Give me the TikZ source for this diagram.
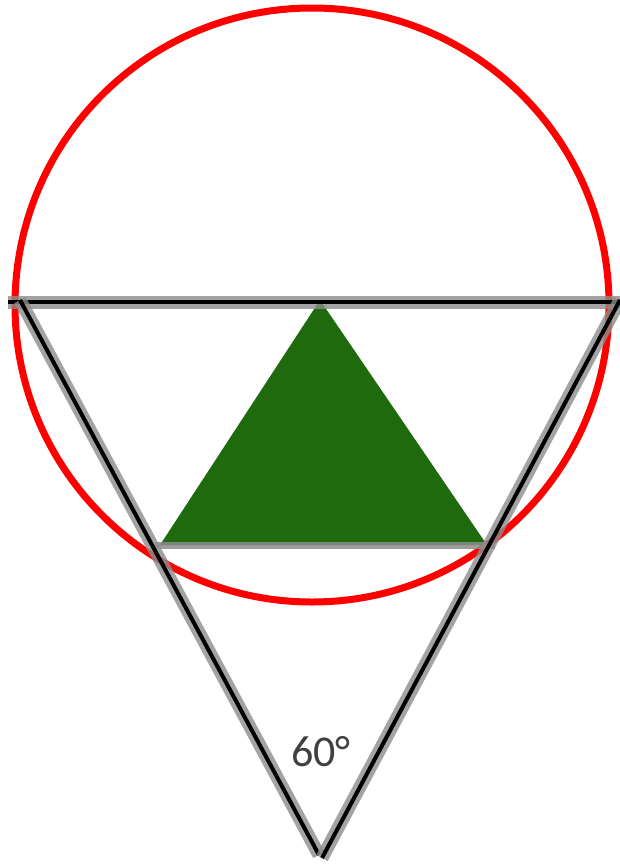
\documentclass[tikz,border=0pt]{standalone}
\usepackage{fontspec}
\setmainfont{Carlito}
\usetikzlibrary{calc}
\definecolor{ring}{HTML}{FF0000}
\definecolor{leaf}{HTML}{1F6A0C}
\definecolor{halo}{HTML}{8C8C8C}
\definecolor{ink}{HTML}{404040}
\tikzset{
  ringline/.style={draw=ring,line width=7pt},
  edgeline/.style={preaction={draw=halo,line width=13pt,opacity=0.8},draw=black,line width=4pt},
  baseline/.style={draw=halo,line width=7pt,opacity=0.85},
  anglelabel/.style={font=\fontsize{44}{44}\selectfont,text=ink,inner sep=0pt},
}
\begin{document}
\begin{tikzpicture}[x=1pt,y=-1pt]
\useasboundingbox (0,0) rectangle (619,865);

% outer circle
\coordinate (c) at (312,305);
\draw[ringline] (c) circle[radius=297];

% green triangle
\coordinate (apex) at (320,300);
\coordinate (gl) at (160,545);
\coordinate (gr) at (487,545);
\fill[leaf] (apex) -- (gl) -- (gr) -- cycle;
\coordinate (bl) at (155,545);
\coordinate (br) at (495,545);
\draw[baseline] (bl) -- (br);

% big inverted triangle
\coordinate (tl) at (8,302);
\coordinate (tr) at (625,302);
\coordinate (sl) at (20,300);
\coordinate (sr) at (620,300);
\coordinate (vl) at (319,855);
\coordinate (vr) at (322,858);
\draw[edgeline] (tl) -- (tr);
\draw[edgeline] (sl) -- (vl);
\draw[edgeline] (sr) -- (vr);

\node[anglelabel] (angle) at (321,752) {60°};

\end{tikzpicture}
\end{document}
